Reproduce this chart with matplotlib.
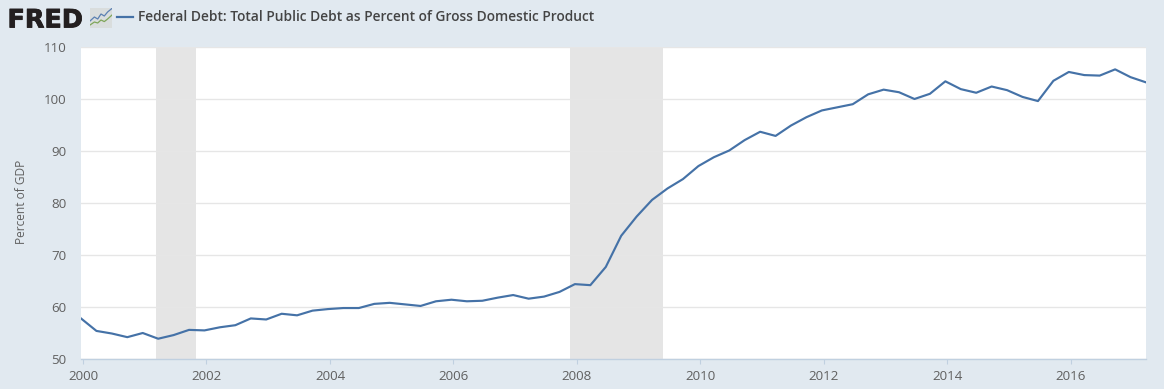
import matplotlib
matplotlib.use("Agg")
import matplotlib.pyplot as plt
import matplotlib.patheffects as pe

start_year = 2000
debt_pct = [
    57.8, 55.4, 54.9, 54.2,
    55.0, 53.9, 54.6, 55.6,
    55.5, 56.1, 56.5, 57.8,
    57.6, 58.7, 58.4, 59.3,
    59.6, 59.8, 59.8, 60.6,
    60.8, 60.5, 60.2, 61.1,
    61.4, 61.1, 61.2, 61.8,
    62.3, 61.6, 62.0, 62.9,
    64.4, 64.2, 67.7, 73.7,
    77.4, 80.6, 82.8, 84.6,
    87.1, 88.8, 90.1, 92.1,
    93.7, 92.9, 94.9, 96.5,
    97.8, 98.4, 99.0, 100.9,
    101.8, 101.3, 100.0, 101.0,
    103.4, 101.9, 101.2, 102.4,
    101.7, 100.4, 99.6, 103.5,
    105.2, 104.6, 104.5, 105.7,
    104.2, 103.2,
]
recessions = [(2001.21, 2001.865), (2007.925, 2009.43)]
y_ticks = [50, 60, 70, 80, 90, 100, 110]
x_tick_years = [2000, 2002, 2004, 2006, 2008, 2010, 2012, 2014, 2016]
title = "Federal Debt: Total Public Debt as Percent of Gross Domestic Product"
y_label = "Percent of GDP"

W, H = 1164, 389
BG = "#E1E9F0"
LINE = "#4572A7"
TXT = "#606060"
plt.rcParams["font.family"] = ["Open Sans", "DejaVu Sans"]

fig = plt.figure(figsize=(W / 100, H / 100), dpi=100, facecolor=BG)
L, R, T, B = 81, 1146, 47, 359
ax = fig.add_axes([L / W, 1 - B / H, (R - L) / W, (B - T) / H], facecolor="white")

x = [start_year + i / 4 for i in range(len(debt_pct))]
for a, b in recessions:
    ax.axvspan(a, b, color="#E5E5E5", lw=0, zorder=1)
ax.plot(x, debt_pct, color=LINE, lw=1.55, zorder=3, solid_joinstyle="round")

ax.set_xlim(x[0], x[-1])
ax.set_ylim(50, 110)
ax.set_yticks(y_ticks)
tick_shift = 2 / ((R - L) / (x[-1] - x[0]))
ax.set_xticks([y + tick_shift for y in x_tick_years])
ax.set_xticklabels([str(y) for y in x_tick_years])
ax.grid(axis="y", color="#E6E6E6", lw=1, zorder=0)
for s in ("top", "right", "left"):
    ax.spines[s].set_visible(False)
ax.spines["bottom"].set_color("#C0D0E0")
ax.spines["bottom"].set_linewidth(1)
ax.tick_params(axis="y", length=0, pad=10.5, labelsize=9.6, labelcolor=TXT)
ax.tick_params(axis="x", length=3.6, width=0.8, color="#C0D0E0", pad=4.5, labelsize=9.6, labelcolor=TXT)
fig.text(22 / W, 1 - 202 / H, y_label, rotation=90, ha="center", va="center", fontsize=8.6, color=TXT)

# Header
fig.text(7.5 / W, 1 - 27.5 / H, "FRED", family="DejaVu Sans", weight="bold", fontsize=18.3,
         color="#231F20", ha="left", va="baseline",
         path_effects=[pe.withStroke(linewidth=0.6, foreground="#231F20")])
icon = fig.add_axes([90 / W, 1 - 28 / H, 22 / W, 20 / H])
icon.set_xlim(0, 10); icon.set_ylim(0, 10); icon.axis("off")
icon.add_patch(plt.Rectangle((0, 0), 10, 10, color="#D9DDDD", lw=0))
icon.plot([0, 2, 3.5, 5, 6.5, 8, 10], [3.5, 5.5, 4.5, 7, 6, 8, 9.8], color="#5B80B2", lw=0.9)
icon.plot([0, 2, 3.5, 5, 6.5, 8, 10], [1.5, 3, 2.5, 4, 3.2, 4.5, 6.5], color="#7FA65A", lw=0.9)
fig.add_artist(plt.Line2D([117 / W, 133 / W], [1 - 17 / H] * 2, color=LINE, lw=1.6))
fig.text(138 / W, 1 - 21 / H, title, fontsize=9.9, weight=600, color="#444444", ha="left", va="baseline")

fig.savefig("out.png", dpi=100, facecolor=BG)
